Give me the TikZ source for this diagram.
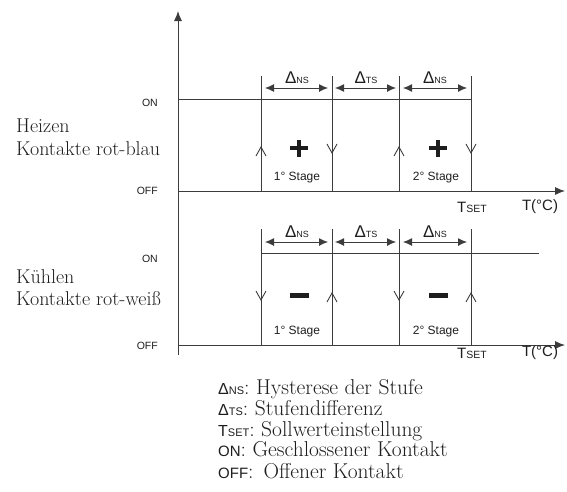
\documentclass[tikz,border=0pt]{standalone}
\usepackage{fontspec}
\newfontfamily\sfont{Liberation Sans}
\usetikzlibrary{arrows.meta}
\definecolor{lc}{HTML}{3C3C3C}
\definecolor{tc}{HTML}{1E1E1E}
\newcommand\dlt[1]{{\fontsize{17}{17}\selectfont Δ}{\fontsize{9}{9}\selectfont #1}}
\newcommand\dltl[1]{{\fontsize{16}{16}\selectfont Δ}{\fontsize{11}{11}\selectfont #1}}
\newcommand\tset{{\fontsize{15}{15}\selectfont T}{\fontsize{10.5}{10.5}\selectfont SET}}
\begin{document}
\begin{tikzpicture}[x=1pt,y=-1pt,
  ln/.style={draw=lc,line width=0.9pt},
  ax/.style={ln,-{Latex[length=10pt,width=8pt]}},
  dimarr/.style={ln,{Latex[length=9pt,width=8pt]}-{Latex[length=9pt,width=8pt]}},
  sflab/.style={font=\sfont\fontsize{10.5}{12}\selectfont,text=tc,inner sep=0pt},
  stlab/.style={font=\sfont\fontsize{12}{13}\selectfont,text=tc,inner sep=0pt},
  dlab/.style={font=\sfont,text=tc,inner sep=0pt},
  axlab/.style={font=\sfont\fontsize{15}{16}\selectfont,text=tc,inner sep=0pt},
  serif/.style={font=\fontsize{20}{22}\selectfont,text=tc,inner sep=0pt,anchor=base west},
  leg/.style={font=\fontsize{21.5}{23}\selectfont,text=tc,inner sep=0pt,anchor=base west}]
\useasboundingbox (0,0) rectangle (567,491);

% axes
\draw[ax] (178,355) -- (178,11);
\draw[ax] (178,191) -- (565,191);
\draw[ax] (178,345) -- (565,345);

% ---------- heating ----------
\draw[ln] (178,99) -- (471,99);
\foreach \x in {261,332,399,471} \draw[ln] (\x,76) -- (\x,191);
\draw[dimarr] (265,88) -- (328,88);
\draw[dimarr] (335,88) -- (396,88);
\draw[dimarr] (403,88) -- (467,88);
\node[dlab] (h1) at (297,78) {\dlt{NS}};
\node[dlab] (h2) at (366,78) {\dlt{TS}};
\node[dlab] (h3) at (435,78) {\dlt{NS}};
% chevrons
\foreach \x in {261,399} \draw[ln] (\x-5,156) -- (\x,147) -- (\x+5,156);
\foreach \x in {332,471} \draw[ln] (\x-5,144) -- (\x,153) -- (\x+5,144);
% plus signs
\foreach \x in {299,438} {
  \fill[tc] (\x-9,146) rectangle (\x+9,150);
  \fill[tc] (\x-2,139.5) rectangle (\x+2,156.5);
}
\node[stlab] (s1) at (297,178) {1° Stage};
\node[stlab] (s2) at (436,178) {2° Stage};
\node[dlab] (ts1) at (472,207) {\tset};
\node[axlab] (t1) at (540,207) {T(°C)};

% ---------- cooling ----------
\draw[ln] (261,253) -- (539,253);
\foreach \x in {261,332,399,471} \draw[ln] (\x,229) -- (\x,345);
\draw[dimarr] (265,242) -- (328,242);
\draw[dimarr] (335,242) -- (396,242);
\draw[dimarr] (403,242) -- (467,242);
\node[dlab] (c1) at (297,232) {\dlt{NS}};
\node[dlab] (c2) at (366,232) {\dlt{TS}};
\node[dlab] (c3) at (435,232) {\dlt{NS}};
\foreach \x in {261,399} \draw[ln] (\x-5,291) -- (\x,300) -- (\x+5,291);
\foreach \x in {332,471} \draw[ln] (\x-5,302) -- (\x,293) -- (\x+5,302);
\foreach \x in {299,438} \fill[tc] (\x-9.5,293) rectangle (\x+9.5,297.5);
\node[stlab] (s3) at (297,332) {1° Stage};
\node[stlab] (s4) at (436,332) {2° Stage};
\node[dlab] (ts2) at (472,353) {\tset};
\node[axlab] (t2) at (540,353) {T(°C)};

% ---------- left labels ----------
\node[sflab,anchor=east] (on1) at (158,103) {ON};
\node[sflab,anchor=east] (off1) at (158,191) {OFF};
\node[sflab,anchor=east] (on2) at (158,259) {ON};
\node[sflab,anchor=east] (off2) at (158,345.5) {OFF};
\node[serif] (l1) at (16,132) {Heizen};
\node[serif] (l2) at (16,155) {Kontakte rot-blau};
\node[serif] (l3) at (16,283) {Kühlen};
\node[serif] (l4) at (16,305) {Kontakte rot-weiß};

% ---------- legend ----------
\node[leg] (g1) at (218,394) {{\sfont\dltl{NS}}: Hysterese der Stufe};
\node[leg] (g2) at (218,415) {{\sfont\dltl{TS}}: Stufendifferenz};
\node[leg] (g3) at (218,436) {{\sfont\fontsize{16}{16}\selectfont T\fontsize{11}{11}\selectfont SET}: Sollwerteinstellung};
\node[leg] (g4) at (218,456) {{\sfont\fontsize{15}{15}\selectfont ON}: Geschlossener Kontakt};
\node[leg] (g5) at (218,478) {{\sfont\fontsize{15}{15}\selectfont OFF}:\hspace{10pt}Offener Kontakt};
\end{tikzpicture}
\end{document}
